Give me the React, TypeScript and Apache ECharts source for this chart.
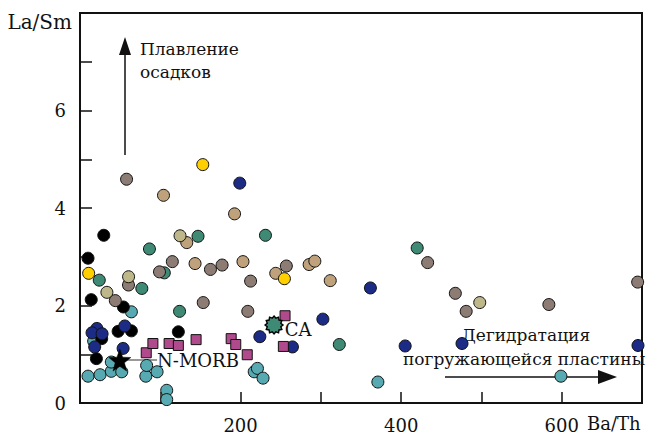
import React, { useEffect, useRef } from "react";
import * as echarts from "echarts";

// Ba/Th vs La/Sm, grouped by sample suite
const BLACK_PTS = [[10, 2.97], [29.6, 3.44], [14, 2.12], [54, 1.97], [47.5, 1.47], [64, 1.48], [122.5, 1.46], [27, 1.32], [20.4, 0.91]];
const NAVY_PTS = [[21, 1.53], [15, 1.44], [27.5, 1.42], [18.3, 1.15], [55.8, 1.58], [53.7, 1.12], [199, 4.51], [224, 1.36], [264.6, 1.15], [302.5, 1.72], [361.7, 2.36], [405, 1.17], [475.8, 1.22], [695, 1.18]];
const TEAL_PTS = [[17, 1.27], [64, 1.87], [10, 0.55], [25, 0.58], [39, 0.65], [39, 0.84], [52, 0.64], [82, 0.55], [83, 0.77], [96, 0.64], [108, 0.26], [108, 0.07], [217, 0.64], [221, 0.71], [228, 0.51], [371, 0.43], [599, 0.55]];
const GREEN_PTS = [[24, 2.52], [77, 2.35], [86.5, 3.16], [105, 2.67], [124, 1.88], [147, 3.42], [231, 3.44], [323, 1.2], [420, 3.18]];
const TAUPE_PTS = [[58, 4.59], [60.4, 2.42], [44, 2.1], [99, 2.69], [115, 2.9], [153.5, 2.06], [162.5, 2.74], [177, 2.83], [209, 1.88], [212.5, 2.5], [257, 2.81], [433, 2.88], [467.5, 2.25], [481, 1.88], [584, 2.02], [694.6, 2.48]];
const TAN_PTS = [[104, 4.26], [133, 3.29], [143.3, 2.86], [192.5, 3.88], [203, 2.9], [243.8, 2.66], [285.4, 2.84], [292.5, 2.91], [311.7, 2.51]];
const OLIVE_PTS = [[33.5, 2.27], [60.5, 2.59], [124.6, 3.43], [497.9, 2.06]];
const YELLOW_PTS = [[10.8, 2.66], [152.9, 4.89], [254.6, 2.55]];
const MAGENTA_SQ = [[82.5, 1.03], [90.8, 1.22], [111, 1.22], [122.5, 1.18], [144.6, 1.3], [188.3, 1.32], [194, 1.2], [208.3, 0.99], [253.3, 1.16], [255.4, 1.79]];

// reference compositions
const N_MORB = [49.6, 0.88];
const N_MORB_LABEL_X = 96;
const CA = [241.7, 1.6];

const X_LABELS = [200, 400, 600];
const Y_LABELS = [0, 2, 4, 6];

const FONT = "DejaVu Serif";

function starPath(points: number, inner: number): string {
  const parts: string[] = [];
  for (let i = 0; i < points * 2; i++) {
    const r = i % 2 === 0 ? 10 : 10 * inner;
    const a = (Math.PI * i) / points - Math.PI / 2;
    parts.push(`${i === 0 ? "M" : "L"}${(r * Math.cos(a)).toFixed(3)},${(r * Math.sin(a)).toFixed(3)}`);
  }
  return "path://" + parts.join(" ") + " Z";
}

function dots(name: string, data: number[][], color: string, symbol = "circle", size = 12) {
  return {
    name,
    type: "scatter",
    data,
    symbol,
    symbolSize: size,
    itemStyle: { color, borderColor: "#111", borderWidth: 1, opacity: 1 },
    z: 3,
  };
}

export default function App() {
  const ref = useRef<HTMLDivElement>(null);

  useEffect(() => {
    if (!ref.current) return;
    const chart = echarts.init(ref.current, undefined, { renderer: "svg" });
    const textStyle = { fontFamily: FONT, fontSize: 17, fill: "#111" };

    chart.setOption({
      animation: false,
      backgroundColor: "#fff",
      textStyle: { fontFamily: FONT },
      grid: { left: 80, right: 9, top: 13, bottom: 33, show: true, borderColor: "#111", borderWidth: 2 },
      xAxis: {
        type: "value",
        min: 0,
        max: 700,
        interval: 100,
        splitLine: { show: false },
        axisLine: { lineStyle: { color: "#111", width: 2 } },
        axisTick: { inside: true, length: 11, lineStyle: { color: "#111", width: 1.5 } },
        axisLabel: {
          margin: 13,
          fontFamily: FONT,
          fontSize: 18,
          color: "#111",
          formatter: (v: number) => (X_LABELS.includes(v) ? String(v) : ""),
        },
      },
      yAxis: {
        type: "value",
        min: 0,
        max: 8,
        interval: 1,
        splitLine: { show: false },
        axisLine: { lineStyle: { color: "#111", width: 2 } },
        axisTick: { inside: true, length: 12, lineStyle: { color: "#111", width: 1.5 } },
        axisLabel: {
          margin: 14,
          fontFamily: FONT,
          fontSize: 18,
          color: "#111",
          formatter: (v: number) => (Y_LABELS.includes(v) ? String(v) : ""),
        },
      },
      series: [
        {
          name: "N-MORB link",
          type: "line",
          data: [N_MORB, [N_MORB_LABEL_X, N_MORB[1]]],
          symbol: "none",
          lineStyle: { color: "#777", width: 1.5 },
          endLabel: {
            show: true,
            formatter: "N-MORB",
            fontFamily: FONT,
            fontSize: 18,
            color: "#111",
            distance: 0,
          },
          z: 2,
        },
        dots("teal", TEAL_PTS, "#58aab2"),
        dots("black", BLACK_PTS, "#000000"),
        dots("navy", NAVY_PTS, "#1c2c86"),
        dots("green", GREEN_PTS, "#3e8a75"),
        dots("taupe", TAUPE_PTS, "#8c7c74"),
        dots("tan", TAN_PTS, "#bfa27c"),
        dots("olive", OLIVE_PTS, "#beb78a"),
        dots("yellow", YELLOW_PTS, "#ffcf00"),
        dots("magenta", MAGENTA_SQ, "#b04a8c", "rect", 10),
        {
          name: "N-MORB",
          type: "scatter",
          data: [N_MORB],
          symbol: starPath(5, 0.42),
          symbolSize: 22,
          itemStyle: { color: "#000", borderColor: "#000", borderWidth: 0.5, opacity: 1 },
          z: 4,
        },
        {
          name: "CA",
          type: "scatter",
          data: [CA],
          symbol: starPath(12, 0.78),
          symbolSize: 18,
          itemStyle: { color: "#3e8a75", borderColor: "#000", borderWidth: 1.4, opacity: 1 },
          label: {
            show: true,
            formatter: "CA",
            position: "right",
            distance: 1,
            offset: [0, 4],
            fontFamily: FONT,
            fontSize: 18,
            color: "#111",
          },
          z: 4,
        },
      ],
      graphic: [
        { type: "text", right: 651 - 72, top: 12, style: { ...textStyle, text: "La/Sm", fontSize: 20 } },
        { type: "text", left: 587, top: 414, style: { ...textStyle, text: "Ba/Th", fontSize: 18 } },
        // sediment-melting arrow
        { type: "line", shape: { x1: 125, y1: 155, x2: 125, y2: 52 }, style: { stroke: "#111", lineWidth: 1.5 }, z: 1 },
        { type: "polygon", shape: { points: [[125, 37], [119, 55], [131, 55]] }, style: { fill: "#111" }, z: 1 },
        { type: "text", left: 140, top: 40, style: { ...textStyle, text: "Плавление" } },
        { type: "text", left: 140, top: 63, style: { ...textStyle, text: "осадков" } },
        // slab-dehydration arrow
        { type: "line", shape: { x1: 445, y1: 377, x2: 600, y2: 377 }, style: { stroke: "#111", lineWidth: 1.5 }, z: 1 },
        { type: "polygon", shape: { points: [[617, 377], [598, 370], [598, 384]] }, style: { fill: "#111" }, z: 1 },
        { type: "text", left: 462, top: 326, style: { ...textStyle, text: "Дегидратация" } },
        { type: "text", left: 403, top: 350, style: { ...textStyle, text: "погружающейся пластины" } },
      ],
    });

    return () => chart.dispose();
  }, []);

  return <div ref={ref} style={{ position: "fixed", left: 0, top: 0, width: 651, height: 436 }} />;
}
